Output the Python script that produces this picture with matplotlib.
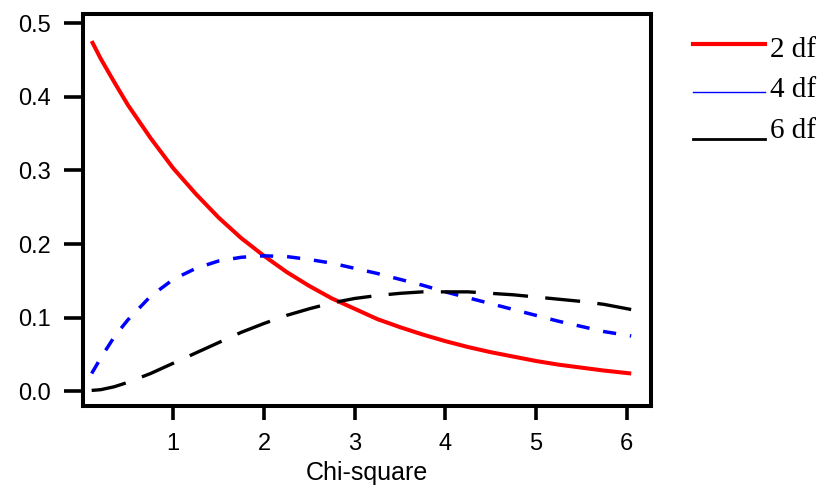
import matplotlib
matplotlib.use("Agg")
import matplotlib.pyplot as plt
from matplotlib.lines import Line2D

# Valeurs
chi_x = [0.1, 0.2, 0.35, 0.5, 0.75, 1.0, 1.25, 1.5, 1.75, 2.0, 2.25, 2.5, 2.75,
         3.0, 3.25, 3.5, 3.75, 4.0, 4.25, 4.5, 4.75, 5.0, 5.25, 5.5, 5.75, 6.05]
dens_2df = [0.476, 0.452, 0.420, 0.389, 0.344, 0.303, 0.268, 0.236, 0.208, 0.184,
            0.162, 0.143, 0.126, 0.112, 0.098, 0.087, 0.077, 0.068, 0.060, 0.053,
            0.047, 0.041, 0.036, 0.032, 0.028, 0.024]
dens_4df = [0.024, 0.045, 0.074, 0.097, 0.129, 0.152, 0.167, 0.177, 0.182, 0.184,
            0.183, 0.179, 0.174, 0.167, 0.160, 0.152, 0.144, 0.135, 0.127, 0.119,
            0.111, 0.103, 0.095, 0.088, 0.081, 0.075]
dens_6df = [0.001, 0.002, 0.006, 0.012, 0.024, 0.038, 0.052, 0.066, 0.080, 0.092,
            0.103, 0.112, 0.120, 0.126, 0.130, 0.133, 0.135, 0.135, 0.135, 0.133,
            0.131, 0.128, 0.125, 0.122, 0.118, 0.111]
legend_labels = ["2 df", "4 df", "6 df"]
x_ticks = [1, 2, 3, 4, 5, 6]
y_ticks = [0.0, 0.1, 0.2, 0.3, 0.4, 0.5]

plt.rcParams['font.family'] = ['Liberation Sans', 'DejaVu Sans']

fig = plt.figure(figsize=(8.3, 4.87), dpi=100)
ax = fig.add_axes([0.0995, 0.166, 0.685, 0.805])

ax.plot(chi_x, dens_2df, color='red', linewidth=2.9, solid_capstyle='butt')
ax.plot(chi_x, dens_4df, color='blue', linewidth=2.5, linestyle=(0, (3.8, 4.0)))
ax.plot(chi_x, dens_6df, color='black', linewidth=2.4, linestyle=(0, (10.5, 5.2)))

ax.set_xlim(0, 6.27)
ax.set_ylim(-0.0204, 0.5126)
ax.set_xticks(x_ticks)
ax.set_yticks(y_ticks)
ax.set_yticklabels([f"{v:.1f}" for v in y_ticks])
ax.tick_params(axis='y', length=14, width=2.6, pad=9, labelsize=17)
ax.tick_params(axis='x', length=10, width=2.6, pad=9, labelsize=17)
for s in ax.spines.values():
    s.set_linewidth(2.9)

ax.set_xlabel("Chi-square", fontsize=18)
ax.xaxis.set_label_coords(0.5, -0.14)

# Légende dessinée à la main (positions en pixels de la figure)
W, H = 830, 487
leg_colors = ['red', 'blue', 'black']
leg_widths = [3.0, 1.0, 2.0]
line_y = [44, 92, 139]
text_y = [57, 97, 138]
for lab, c, lw, ly, ty in zip(legend_labels, leg_colors, leg_widths, line_y, text_y):
    fig.add_artist(Line2D([693 / W, 765 / W], [1 - ly / H, 1 - ly / H],
                          color=c, linewidth=lw, transform=fig.transFigure))
    fig.text(770 / W, 1 - ty / H, lab, fontsize=21, family='Liberation Serif',
             ha='left', va='baseline')

fig.savefig("out.png", dpi=100)
